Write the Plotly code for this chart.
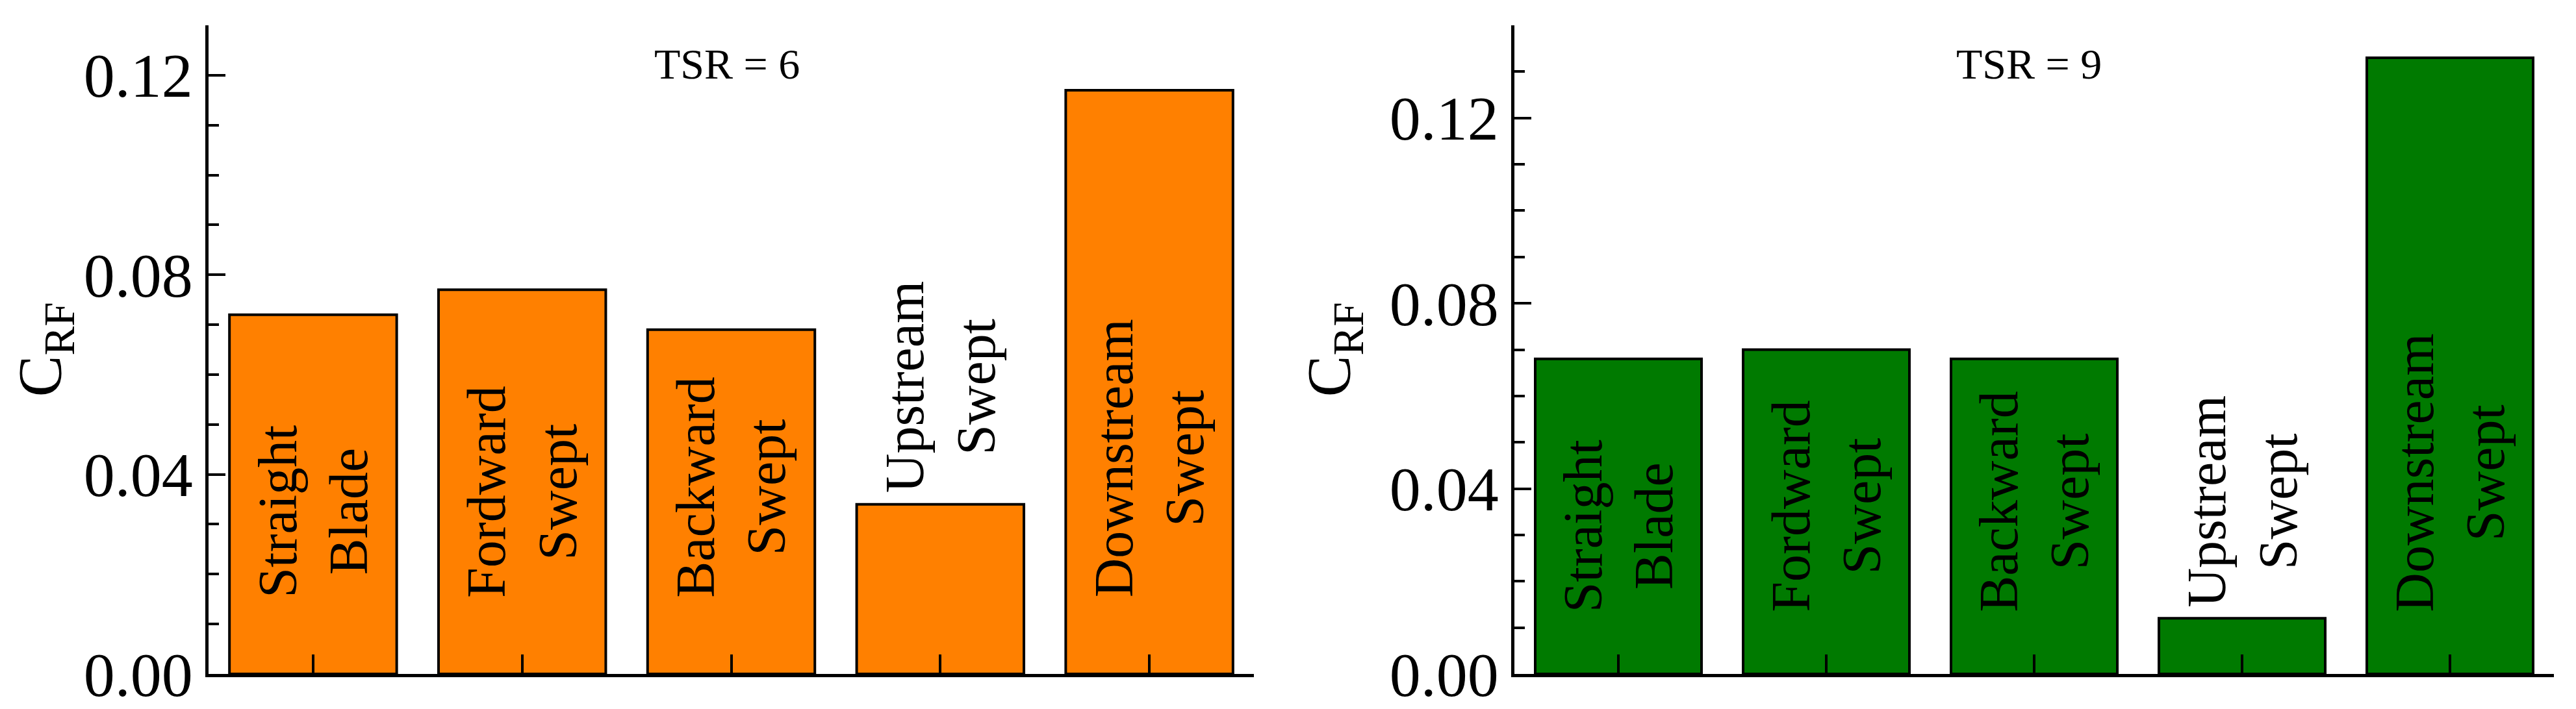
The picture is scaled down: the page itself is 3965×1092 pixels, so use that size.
import plotly.graph_objects as go

categories = ["Straight<br>Blade", "Fordward<br>Swept", "Backward<br>Swept", "Upstream<br>Swept", "Downstream<br>Swept"]
tsr6_values = [0.072, 0.077, 0.069, 0.034, 0.117]
tsr9_values = [0.068, 0.070, 0.068, 0.012, 0.133]
panel_titles = ["TSR = 6", "TSR = 9"]
y_ticks = [0.00, 0.04, 0.08, 0.12]

W, H = 3965, 1092
FONT = "Liberation Serif, Times New Roman, serif"
fig = go.Figure()
panels = [
    (tsr6_values, "#FF8000", "x", "y", [313/W, 1922/W], 0.130, 0.015, 1111/W),
    (tsr9_values, "#007A00", "x2", "y2", [2323/W, 3923/W], 0.140, 0.013, 3115/W),
]
for i, (vals, col, xa, ya, dom, ymax, tb, tx) in enumerate(panels):
    xs = list(range(len(categories)))
    fig.add_trace(go.Bar(x=xs, y=vals, xaxis=xa, yaxis=ya, width=0.8,
                         marker=dict(color=col, line=dict(color="black", width=4)),
                         showlegend=False))
    for xi, v, c in zip(xs, vals, categories):
        inside = v > 0.05
        fig.add_annotation(x=xi, y=(tb if inside else v + 0.002), xref=xa, yref=ya,
                           text=c, textangle=-90, showarrow=False,
                           xanchor="center", yanchor="bottom",
                           font=dict(family=FONT, size=84, color="black"))
    fig.add_annotation(x=tx, y=0.94, xref="paper", yref="paper",
                       text=panel_titles[i], showarrow=False, xanchor="center", yanchor="middle",
                       font=dict(family=FONT, size=66, color="black"))
    axsuffix = "" if i == 0 else "2"
    fig.update_layout(**{
        "xaxis" + axsuffix: dict(domain=dom, range=[-0.5, 4.5], tickvals=xs, ticktext=[""]*5,
                                 ticks="inside", ticklen=30, tickwidth=4, tickcolor="black",
                                 showline=True, linewidth=5, linecolor="black",
                                 showgrid=False, zeroline=False, anchor=ya),
        "yaxis" + axsuffix: dict(range=[0, ymax], tickvals=y_ticks, tickformat=".2f",
                                 ticks="inside", ticklen=26, tickwidth=4, tickcolor="black",
                                 minor=dict(dtick=0.01, ticks="inside", ticklen=16, tickwidth=4, tickcolor="black"),
                                 showline=True, linewidth=5, linecolor="black",
                                 showgrid=False, zeroline=False, anchor=xa,
                                 tickfont=dict(family=FONT, size=96, color="black"),
                                 title=dict(text="C<sub>RF</sub>", standoff=30,
                                            font=dict(family=FONT, size=96, color="black"))),
    })

fig.update_layout(width=W, height=H, margin=dict(l=0, r=0, t=31, b=62),
                  plot_bgcolor="white", paper_bgcolor="white")
fig.write_html("out.html")
